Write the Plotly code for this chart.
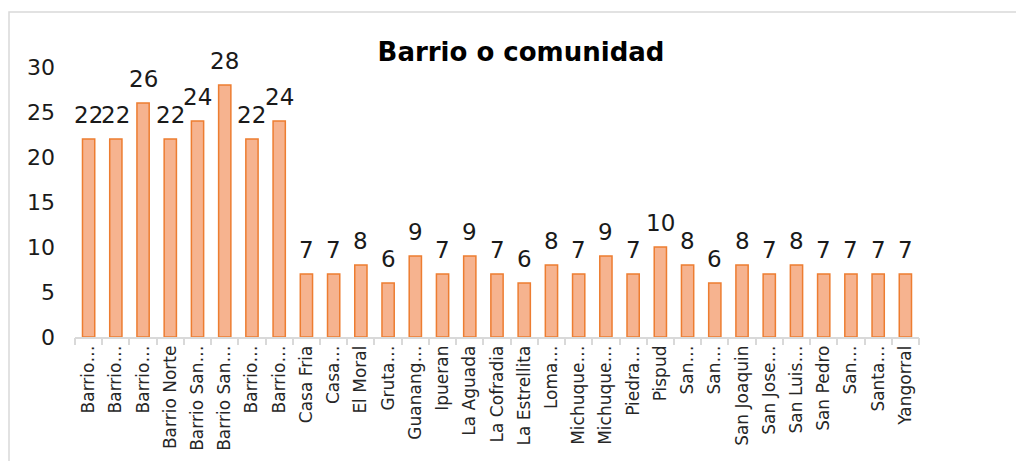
import plotly.graph_objects as go

categories = ["Barrio…", "Barrio…", "Barrio…", "Barrio Norte", "Barrio San…", "Barrio San…",
              "Barrio…", "Barrio…", "Casa Fria", "Casa…", "El Moral", "Gruta…", "Guanang…",
              "Ipueran", "La Aguada", "La Cofradia", "La Estrellita", "Loma…", "Michuque…",
              "Michuque…", "Piedra…", "Pispud", "San…", "San…", "San Joaquin", "San Jose…",
              "San Luis…", "San Pedro", "San…", "Santa…", "Yangorral"]
values = [22, 22, 26, 22, 24, 28, 22, 24, 7, 7, 8, 6, 9, 7, 9, 7, 6, 8, 7, 9, 7, 10, 8, 6,
          8, 7, 8, 7, 7, 7, 7]
y_ticks = [0, 5, 10, 15, 20, 25, 30]

FONT = "DejaVu Sans"
n = len(categories)
xs = list(range(n))

# page body has an 8px default margin; compensate in the plot margins
L, T, R, B = 67, 59, 113, 132

fig = go.Figure()
fig.add_trace(go.Bar(
    x=xs, y=values, width=0.45,
    marker=dict(color="#F6B38F", line=dict(color="#ED7D31", width=1.5)),
    showlegend=False,
))
fig.add_trace(go.Scatter(x=[-0.5, n - 0.5], y=[0, 0], xaxis="x2", mode="lines",
                         line=dict(width=0), hoverinfo="skip", showlegend=False))

for xi, v in zip(xs, values):
    fig.add_annotation(x=xi, y=v, text=str(v), showarrow=False, yanchor="bottom",
                       yshift=9, font=dict(family=FONT, size=23, color="#1a1a1a"))

fig.update_layout(
    width=1024, height=461,
    margin=dict(l=L, r=R, t=T, b=B),
    paper_bgcolor="white", plot_bgcolor="white",
    title=dict(text="<b>Barrio o comunidad</b>", x=(521 - 8) / 1024, xanchor="center",
               y=1 - (52 - 8) / 461, yanchor="middle",
               xref="container", yref="container",
               font=dict(family=FONT, size=26, color="#000000")),
    xaxis=dict(range=[-0.5, n - 0.5], tickvals=xs, ticktext=categories,
               tickangle=-90, ticks="", showgrid=False, zeroline=False,
               showline=True, linecolor="#D9D9D9", linewidth=1.5,
               tickfont=dict(family=FONT, size=17, color="#262626")),
    xaxis2=dict(range=[-0.5, n - 0.5], overlaying="x", anchor="y",
                tickvals=[i - 0.5 for i in range(n + 1)], ticks="outside",
                ticklen=7, tickcolor="#D9D9D9", tickwidth=1.5,
                showticklabels=False, showgrid=False, zeroline=False, showline=False),
    yaxis=dict(range=[0, 30], tickvals=y_ticks, showgrid=False, zeroline=False,
               showline=False, ticks="", ticklabelstandoff=19,
               tickfont=dict(family=FONT, size=22, color="#1a1a1a")),
)
pw = 1024 - L - R
ph = 461 - T - B
fig.add_shape(type="rect", xref="paper", yref="paper",
              x0=(1 - L) / pw, x1=1.3, y0=-0.6, y1=1 + (T - 4) / ph,
              line=dict(color="#D9D9D9", width=1.5), fillcolor="rgba(0,0,0,0)", layer="below")

fig.write_html("out.html")
